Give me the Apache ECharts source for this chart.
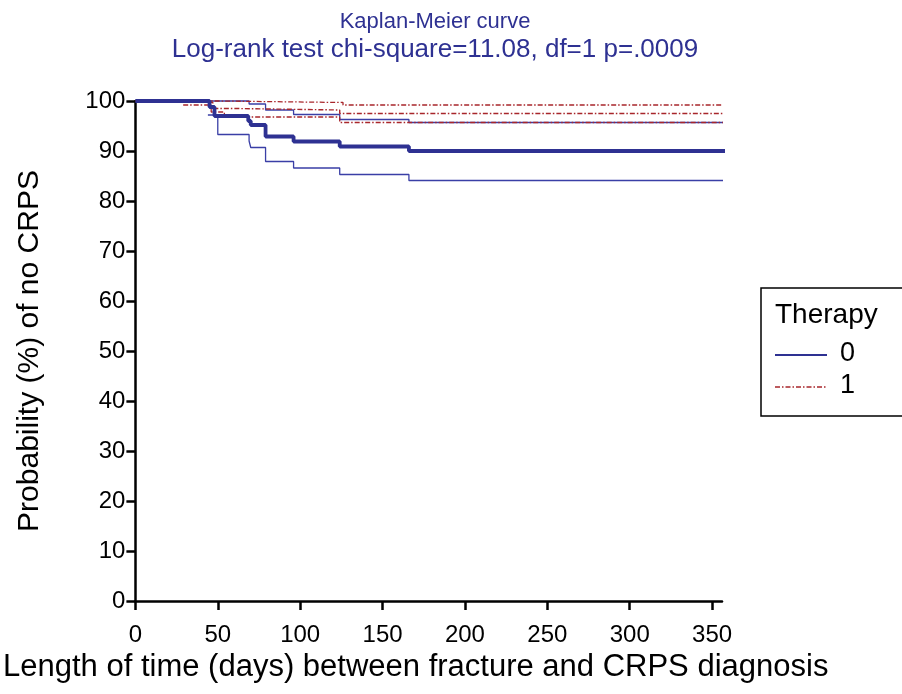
<!DOCTYPE html>
<html><head><meta charset="utf-8">
<script src="https://cdn.jsdelivr.net/npm/echarts@6/dist/echarts.min.js"></script>
<style>html,body{margin:0;padding:0;background:#fff}#c{width:902px;height:694px}</style>
</head><body><div id="c"></div>
<script>
// Kaplan-Meier step data: [day, probability %]
const therapy0Est   = [[0,100],[45,98.8],[48,97],[68.5,96],[70,95.2],[79,92.9],[96,91.9],[124,90.9],[166,90],[364,90]];
const therapy0Lower = [[44,97.2],[50,93.3],[69,92],[70,90.7],[79,87.9],[96,86.6],[124,85.3],[166,84.1],[364,84.1]];
const therapy0Upper = [[45,100],[69,99.4],[79,98.2],[96,97.3],[124,96.3],[166,95.7],[364,95.7]];
const therapy1Est   = [[0,100],[29,99.7],[47,98.5],[61,98.2],[124,97.5],[364,97.5]];
const therapy1Lower = [[29,99.2],[46,97.8],[54,96.8],[124,95.7],[364,95.7]];
const therapy1Upper = [[29,100],[50,99.7],[126,99.2],[364,99.2]];
const xTicks = [0,50,100,150,200,250,300,350];
const titleLine1 = 'Kaplan-Meier curve';
const titleLine2 = 'Log-rank test chi-square=11.08, df=1 p=.0009';
const legendTitle = 'Therapy';
const legendNames = ['0','1'];

const BLUE = '#2E3192', BLUE_THIN = '#3A3FA6', RED = '#A8262B';
const FONT = 'Liberation Sans';
const dashDot = [5,2,1.5,2];

function s(name, data, color, width, type){
  return {name, type:'line', data, step:'end', symbol:'none', showSymbol:false, clip:false, silent:true,
    lineStyle:{color, width, type}, itemStyle:{color}, z: width>2?3:2};
}

const chart = echarts.init(document.getElementById('c'));
chart.setOption({
  animation:false,
  title:{text:'{a|'+titleLine1+'}\n{b|'+titleLine2+'}', left:430, textAlign:'center', top:3,
    textStyle:{fontWeight:'normal', rich:{
      a:{color:BLUE, fontFamily:FONT, fontSize:22, fontWeight:'normal', lineHeight:28},
      b:{color:BLUE, fontFamily:FONT, fontSize:26, fontWeight:'normal', lineHeight:28}}}},
  grid:{left:135, right:180, top:101, bottom:93},
  graphic:[
    {type:'rect', shape:{x:761, y:288, width:150, height:128}, style:{fill:'none', stroke:'#000', lineWidth:1.5}},
    {type:'text', x:775, y:315, style:{text:legendTitle, fontFamily:FONT, fontSize:28, fill:'#000', verticalAlign:'middle'}},
    {type:'line', shape:{x1:775, y1:355, x2:827, y2:355}, style:{stroke:BLUE, lineWidth:1.8}},
    {type:'text', x:840, y:354, style:{text:legendNames[0], fontFamily:FONT, fontSize:27, fill:'#000', verticalAlign:'middle'}},
    {type:'line', shape:{x1:775, y1:387, x2:827, y2:387}, style:{stroke:RED, lineWidth:1.4, lineDash:dashDot}},
    {type:'text', x:840, y:386, style:{text:legendNames[1], fontFamily:FONT, fontSize:27, fill:'#000', verticalAlign:'middle'}}
  ],
  xAxis:{type:'value', min:0, max:356,
    name:'Length of time (days) between fracture and CRPS diagnosis', nameLocation:'middle', nameGap:48,
    nameTextStyle:{fontFamily:FONT, fontSize:31, color:'#000', padding:[0,26,0,0]},
    axisLine:{lineStyle:{color:'#000', width:2.5}},
    axisTick:{show:true, length:9, lineStyle:{color:'#000', width:2.5}, customValues:xTicks},
    axisLabel:{fontFamily:FONT, fontSize:24, color:'#000', margin:22, customValues:xTicks},
    splitLine:{show:false}},
  yAxis:{type:'value', min:0, max:100, interval:10,
    name:'Probability (%) of no CRPS', nameLocation:'middle', nameGap:91,
    nameTextStyle:{fontFamily:FONT, fontSize:30, color:'#000'},
    axisLine:{show:true, lineStyle:{color:'#000', width:2.5}},
    axisTick:{show:true, length:9, lineStyle:{color:'#000', width:2.5}},
    axisLabel:{fontFamily:FONT, fontSize:24, color:'#000', margin:10},
    splitLine:{show:false}},
  series:[
    s('0 lower', therapy0Lower, BLUE_THIN, 1.3, 'solid'),
    s('0 upper', therapy0Upper, BLUE_THIN, 1.3, 'solid'),
    s('1 lower', therapy1Lower, RED, 1.3, dashDot),
    s('1 upper', therapy1Upper, RED, 1.3, dashDot),
    s('1', therapy1Est, RED, 1.4, dashDot),
    s('0', therapy0Est, BLUE, 3.8, 'solid')
  ]
});
</script></body></html>
